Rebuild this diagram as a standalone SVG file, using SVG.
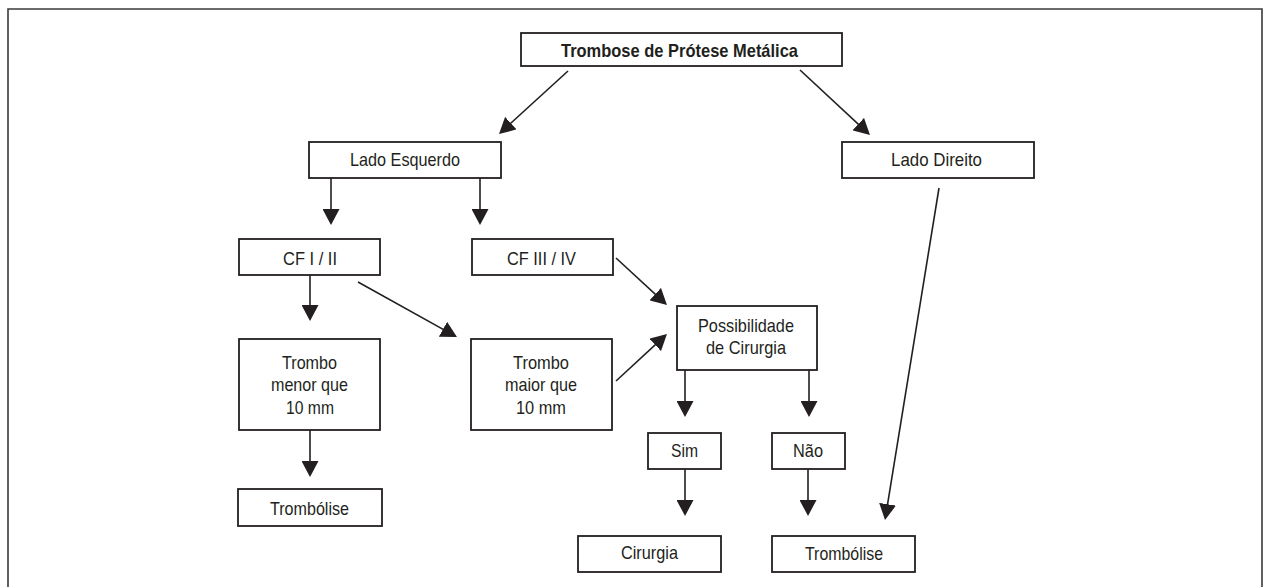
<svg xmlns="http://www.w3.org/2000/svg" width="1266" height="587" viewBox="0 0 1266 587">
<style>
.box{fill:#fff;stroke:#231f20;stroke-width:1.8}
.t{font-family:"Liberation Sans",Arial,sans-serif;font-size:19px;fill:#231f20}
.b{font-weight:bold}
.c{fill:none;stroke:#231f20;stroke-width:1.6}
</style>
<defs>
<marker id="ah" viewBox="0 0 16 17" refX="11" refY="8.5" markerWidth="16" markerHeight="17" markerUnits="userSpaceOnUse" orient="auto">
<path d="M0,0 L16,8.5 L0,17 z" fill="#231f20"/>
</marker>
</defs>
<rect x="0" y="0" width="1266" height="587" fill="#fff"/>
<path d="M8,587 V9 H1262 V587" fill="none" stroke="#3a3a3a" stroke-width="1.6"/>
<g id="connectors">
<line class="c" x1="568" y1="71" x2="502.7" y2="130.6" marker-end="url(#ah)"/>
<line class="c" x1="800" y1="70" x2="866.3" y2="131.6" marker-end="url(#ah)"/>
<line class="c" x1="331" y1="178" x2="331" y2="220" marker-end="url(#ah)"/>
<line class="c" x1="480" y1="178" x2="480" y2="220" marker-end="url(#ah)"/>
<line class="c" x1="310" y1="275" x2="310" y2="316" marker-end="url(#ah)"/>
<line class="c" x1="358" y1="282" x2="452.6" y2="334.6" marker-end="url(#ah)"/>
<line class="c" x1="616" y1="258" x2="663.3" y2="301.6" marker-end="url(#ah)"/>
<line class="c" x1="616" y1="381" x2="663.3" y2="337.4" marker-end="url(#ah)"/>
<line class="c" x1="310" y1="430" x2="310" y2="472" marker-end="url(#ah)"/>
<line class="c" x1="685" y1="370" x2="685" y2="412" marker-end="url(#ah)"/>
<line class="c" x1="809" y1="370" x2="809" y2="412" marker-end="url(#ah)"/>
<line class="c" x1="685" y1="469" x2="685" y2="511" marker-end="url(#ah)"/>
<line class="c" x1="808" y1="469" x2="808" y2="511" marker-end="url(#ah)"/>
<line class="c" x1="939" y1="188" x2="885.8" y2="515.1" marker-end="url(#ah)"/>
</g>
<g id="n-top"><rect class="box" x="521" y="33" width="321" height="33"/><text class="t b" x="561" y="57" textLength="237" lengthAdjust="spacingAndGlyphs">Trombose de Prótese Metálica</text></g>
<g id="n-le"><rect class="box" x="309" y="142" width="192" height="36"/><text class="t" x="350" y="166" textLength="110" lengthAdjust="spacingAndGlyphs">Lado Esquerdo</text></g>
<g id="n-ld"><rect class="box" x="842" y="142" width="192" height="36"/><text class="t" x="891" y="166" textLength="91" lengthAdjust="spacingAndGlyphs">Lado Direito</text></g>
<g id="n-cf12"><rect class="box" x="239" y="239" width="141" height="36"/><text class="t" x="283" y="265" textLength="54" lengthAdjust="spacingAndGlyphs">CF I / II</text></g>
<g id="n-cf34"><rect class="box" x="472" y="239" width="141" height="36"/><text class="t" x="507" y="265" textLength="69" lengthAdjust="spacingAndGlyphs">CF III / IV</text></g>
<g id="n-menor"><rect class="box" x="239" y="339" width="141" height="91"/>
<text class="t" x="282" y="369" textLength="55" lengthAdjust="spacingAndGlyphs">Trombo</text>
<text class="t" x="271" y="391" textLength="77" lengthAdjust="spacingAndGlyphs">menor que</text>
<text class="t" x="286" y="414" textLength="48" lengthAdjust="spacingAndGlyphs">10 mm</text></g>
<g id="n-maior"><rect class="box" x="471" y="339" width="141" height="91"/>
<text class="t" x="513" y="369" textLength="56" lengthAdjust="spacingAndGlyphs">Trombo</text>
<text class="t" x="505" y="391" textLength="72" lengthAdjust="spacingAndGlyphs">maior que</text>
<text class="t" x="516" y="414" textLength="50" lengthAdjust="spacingAndGlyphs">10 mm</text></g>
<g id="n-poss"><rect class="box" x="677" y="306" width="140" height="64"/>
<text class="t" x="698" y="332" textLength="96" lengthAdjust="spacingAndGlyphs">Possibilidade</text>
<text class="t" x="706" y="354" textLength="80" lengthAdjust="spacingAndGlyphs">de Cirurgia</text></g>
<g id="n-sim"><rect class="box" x="648" y="433" width="73" height="36"/><text class="t" x="671" y="457" textLength="27" lengthAdjust="spacingAndGlyphs">Sim</text></g>
<g id="n-nao"><rect class="box" x="772" y="433" width="73" height="36"/><text class="t" x="793" y="457" textLength="30" lengthAdjust="spacingAndGlyphs">Não</text></g>
<g id="n-tromb-l"><rect class="box" x="238" y="489" width="144" height="37"/><text class="t" x="270" y="515" textLength="79" lengthAdjust="spacingAndGlyphs">Trombólise</text></g>
<g id="n-cir"><rect class="box" x="578" y="536" width="143" height="36"/><text class="t" x="621" y="559" textLength="57" lengthAdjust="spacingAndGlyphs">Cirurgia</text></g>
<g id="n-tromb-r"><rect class="box" x="772" y="536" width="143" height="36"/><text class="t" x="805" y="560" textLength="78" lengthAdjust="spacingAndGlyphs">Trombólise</text></g>
</svg>
